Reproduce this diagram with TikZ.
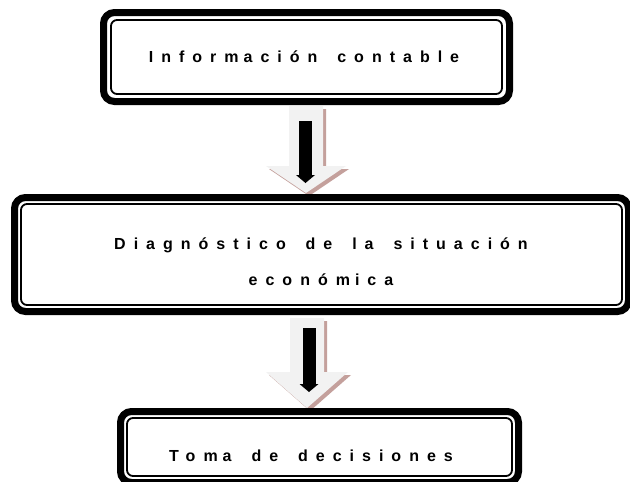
\documentclass[tikz,border=0pt]{standalone}
\usepackage{fontspec}
\newfontfamily\boxfont{Liberation Sans}[LetterSpace=50,WordSpace=1.6]
\usetikzlibrary{calc}
\definecolor{shadowcol}{RGB}{196,160,156}
\definecolor{arrowfill}{RGB}{242,242,242}
\newcommand{\mgap}{\kern5pt}
\tikzset{
  outerband/.style={draw=black, line width=7pt, rounded corners=11pt, inner sep=0pt, fill=white},
  innerline/.style={draw=black, line width=1.8pt, rounded corners=6pt, inner sep=0pt},
  boxtext/.style={font=\boxfont\bfseries\fontsize{16}{36}\selectfont, align=center, inner sep=0pt},
  blockarrow/.style={fill=arrowfill},
  blockshadow/.style={fill=shadowcol},
  blackshaft/.style={draw=black, line width=13pt},
  blackhead/.style={fill=black},
}
\begin{document}
\begin{tikzpicture}[x=1pt,y=-1pt]
\clip (0,0) rectangle (630,482);
\fill[white] (0,0) rectangle (630,482);

% ---- block arrow 1
\coordinate (a1c) at (306,106);
\fill[blockshadow] ($(a1c)+(-17+3,3)$) -- ++(34,0) -- ++(0,60) -- ++(23,0) -- ($(a1c)+(3,90)$) -- ++(-40,-27) -- ++(23,0) -- cycle;
\fill[blockarrow] (a1c) ++(-17,0) -- ++(34,0) -- ++(0,60) -- ++(23,0) -- ($(a1c)+(0,87)$) -- ++(-40,-27) -- ++(23,0) -- cycle;
\coordinate (k1s) at (305.5,121);
\coordinate (k1e) at (305.5,175);
\coordinate (k1t) at (305.5,183);
\draw[blackshaft] (k1s) -- (k1e);
\fill[blackhead] ($(k1e)+(-9.5,0)$) -- ($(k1e)+(9.5,0)$) -- (k1t) -- cycle;

% ---- block arrow 2
\coordinate (a2c) at (307,318);
\fill[blockshadow] ($(a2c)+(-17+3,3)$) -- ++(34,0) -- ++(0,54) -- ++(24,0) -- ($(a2c)+(3,93)$) -- ++(-41,-36) -- ++(24,0) -- cycle;
\fill[blockarrow] (a2c) ++(-17,0) -- ++(34,0) -- ++(0,54) -- ++(24,0) -- ($(a2c)+(0,90)$) -- ++(-41,-36) -- ++(24,0) -- cycle;
\coordinate (k2s) at (309,328);
\coordinate (k2e) at (309,384);
\coordinate (k2t) at (309,392);
\draw[blackshaft] (k2s) -- (k2e);
\fill[blackhead] ($(k2e)+(-9.5,0)$) -- ($(k2e)+(9.5,0)$) -- (k2t) -- cycle;

% ---- box 1
\node[outerband, minimum width=406pt, minimum height=89pt] (b1) at (306.5,57) {};
\node[innerline, minimum width=391pt, minimum height=74pt] (b1i) at (b1.center) {};
\node[boxtext] (t1) at (304,57) {Inform\mgap ación contable};

% ---- box 2
\node[outerband, minimum width=614pt, minimum height=114pt] (b2) at (321.5,254.5) {};
\node[innerline, minimum width=601pt, minimum height=101pt] (b2i) at (b2.center) {};
\node[boxtext] (t2) at (321,262) {Diagnóstico de la situación\\económ\mgap ica};

% ---- box 3
\node[outerband, minimum width=398pt, minimum height=71pt] (b3) at (319.5,447) {};
\node[innerline, minimum width=385pt, minimum height=58pt] (b3i) at (b3.center) {};
\node[boxtext] (t3) at (311,456) {Tom\mgap a de decisiones};
\end{tikzpicture}
\end{document}
